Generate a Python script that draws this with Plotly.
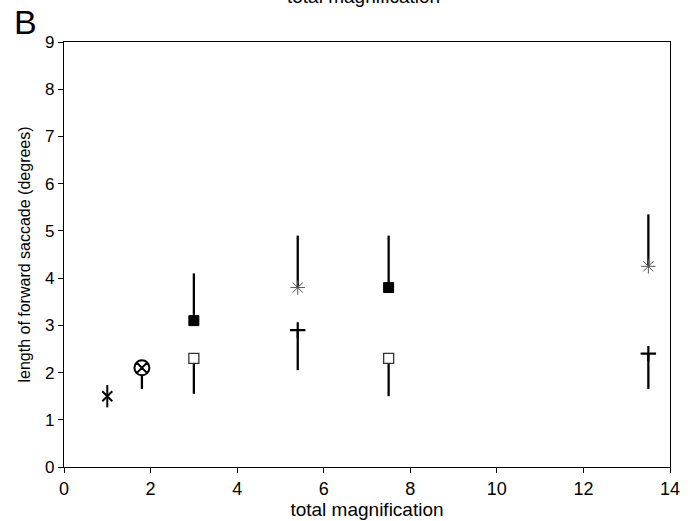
import plotly.graph_objects as go

# Data
star6_x = [1.0]
star6_y = [1.5]

circx_x = [1.8]
circx_y = [2.1]
circx_err_minus = [0.45]

open_sq_x = [3.0, 7.5]
open_sq_y = [2.3, 2.3]
open_sq_err_minus = [0.75, 0.8]

filled_sq_x = [3.0, 7.5]
filled_sq_y = [3.1, 3.8]
filled_sq_err_plus = [1.0, 1.1]

aster_x = [5.4, 13.5]
aster_y = [3.8, 4.25]
aster_err_plus = [1.1, 1.1]

dagger_x = [5.4, 13.5]
dagger_y = [2.9, 2.4]
dagger_err_minus = [0.85, 0.75]

x_ticks = [0, 2, 4, 6, 8, 10, 12, 14]
y_ticks = [0, 1, 2, 3, 4, 5, 6, 7, 8, 9]

FONT = "Liberation Sans, Arial, sans-serif"

def err_down(vals):
    return dict(type="data", symmetric=False, array=[0] * len(vals), arrayminus=vals,
                color="black", thickness=2.3, width=0)

def err_up(vals):
    return dict(type="data", symmetric=False, array=vals, arrayminus=[0] * len(vals),
                color="black", thickness=2.3, width=0)

fig = go.Figure()

# 6-armed star at x=1
fig.add_trace(go.Scatter(x=star6_x, y=star6_y, mode="markers",
                         marker=dict(symbol="x-thin-open", size=10, color="black",
                                     line=dict(color="black", width=2))))
fig.add_trace(go.Scatter(x=star6_x, y=star6_y, mode="markers",
                         marker=dict(symbol="line-ns-open", size=16, color="black",
                                     line=dict(color="black", width=2))))

# circle with x
fig.add_trace(go.Scatter(x=circx_x, y=circx_y, mode="markers",
                         error_y=err_down(circx_err_minus),
                         marker=dict(symbol="circle-x", size=15, color="white",
                                     line=dict(color="black", width=2))))

# open squares
fig.add_trace(go.Scatter(x=open_sq_x, y=open_sq_y, mode="markers",
                         error_y=err_down(open_sq_err_minus),
                         marker=dict(symbol="square", size=10, color="white",
                                     line=dict(color="#333333", width=1.3))))

# filled squares
fig.add_trace(go.Scatter(x=filled_sq_x, y=filled_sq_y, mode="markers",
                         error_y=err_up(filled_sq_err_plus),
                         marker=dict(symbol="square", size=10, color="black",
                                     line=dict(color="black", width=1))))

# asterisks
fig.add_trace(go.Scatter(x=aster_x, y=aster_y, mode="markers",
                         error_y=err_up(aster_err_plus),
                         marker=dict(symbol="asterisk-open", size=12, color="#555555",
                                     line=dict(color="#555555", width=1))))

# daggers
fig.add_trace(go.Scatter(x=dagger_x, y=dagger_y, mode="markers",
                         error_y=err_down(dagger_err_minus),
                         marker=dict(symbol="cross-thin-open", size=11, color="black",
                                     line=dict(color="black", width=2.2))))

axis_common = dict(showline=True, linecolor="black", linewidth=1.2, mirror=True,
                   ticks="outside", ticklen=5, tickcolor="black", tickwidth=1,
                   showgrid=False, zeroline=False, automargin=False)

fig.update_layout(
    width=690, height=521,
    margin=dict(l=64, r=20, t=42, b=54),
    paper_bgcolor="white", plot_bgcolor="white",
    showlegend=False,
    font=dict(family=FONT, color="black"),
    xaxis=dict(range=[0, 14], tickvals=x_ticks,
               tickfont=dict(family=FONT, size=18, color="black"),
               title=dict(text="total magnification", font=dict(family=FONT, size=19), standoff=2),
               **axis_common),
    yaxis=dict(range=[0, 9], tickvals=y_ticks,
               tickfont=dict(family=FONT, size=17, color="black"),
               title=dict(text="length of forward saccade (degrees)", font=dict(family=FONT, size=16), standoff=10),
               **axis_common),
    annotations=[
        dict(text="total magnification", xref="paper", yref="paper", x=0.495, y=1.078,
             xanchor="center", yanchor="bottom", showarrow=False,
             font=dict(family=FONT, size=19, color="black")),
        dict(text="B", xref="paper", yref="paper", x=-0.086, y=1.047,
             xanchor="left", yanchor="middle", showarrow=False,
             font=dict(family=FONT, size=34, color="black")),
    ],
)

fig.write_html("out.html")
